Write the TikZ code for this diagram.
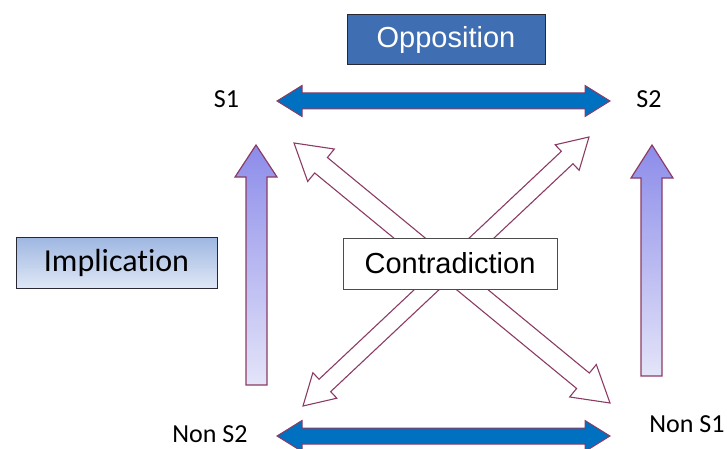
\documentclass[tikz,border=0pt]{standalone}
\usepackage{fontspec}
\setmainfont[Ligatures={NoCommon}]{Carlito}
\newfontfamily\arialf{Liberation Sans}
\usetikzlibrary{calc}
\definecolor{maroonline}{RGB}{140,60,100}
\definecolor{arrowblue}{RGB}{0,112,192}
\definecolor{oppblue}{RGB}{64,110,178}
\definecolor{oppedge}{RGB}{40,40,50}
\definecolor{lavtop}{RGB}{140,140,234}
\definecolor{lavbot}{RGB}{228,228,249}
\definecolor{impltop}{RGB}{158,183,225}
\definecolor{implbot}{RGB}{223,231,245}
\newcommand{\dblarrowpath}[6]{%
  \path[#6] (#1) -- ($(#1)!#5!(#2)!#4!90:(#2)$) -- ($(#1)!#5!(#2)!#3!90:(#2)$)
    -- ($(#2)!#5!(#1)!#3!-90:(#1)$) -- ($(#2)!#5!(#1)!#4!-90:(#1)$) -- (#2)
    -- ($(#2)!#5!(#1)!#4!90:(#1)$) -- ($(#2)!#5!(#1)!#3!90:(#1)$)
    -- ($(#1)!#5!(#2)!#3!-90:(#2)$) -- ($(#1)!#5!(#2)!#4!-90:(#2)$) -- cycle;}
\tikzset{
  lbl/.style={font=\fontsize{26}{30}\selectfont, text=black, inner sep=0pt, anchor=base},
  bluearr/.style={fill=arrowblue, draw=maroonline, line width=1pt, line join=miter},
  hollowarr/.style={fill=white, draw=maroonline, line width=1.1pt, line join=miter},
  lavarr/.style={top color=lavtop, bottom color=lavbot, draw=maroonline, line width=1.2pt},
  oppbox/.style={fill=oppblue, draw=oppedge, line width=1pt, text=white,
    font=\arialf\fontsize{29}{33}\selectfont, minimum width=198pt, minimum height=50pt, inner sep=0pt},
  implbox/.style={top color=impltop, bottom color=implbot, draw=oppedge, line width=1pt, text=black,
    font=\fontsize{32}{36}\selectfont, minimum width=201pt, minimum height=51pt, inner sep=0pt},
  contrbox/.style={fill=white, draw=black!70, line width=1pt, text=black,
    font=\arialf\fontsize{29}{33}\selectfont, minimum width=214pt, minimum height=51pt, inner sep=0pt},
}
\begin{document}
\begin{tikzpicture}[x=1pt, y=-1pt]
\useasboundingbox (0,0) rectangle (727,449);
% labels
\node[lbl] (S1) at (226.5,108) {S1};
\node[lbl] (S2) at (649,108) {S2};
\node[lbl] (NS2) at (210,442) {Non S2};
\node[lbl] (NS1) at (687,432) {Non S1};
% arrow end points
\coordinate (ta1) at (277,101);
\coordinate (ta2) at (610,101);
\coordinate (ba1) at (277,436);
\coordinate (ba2) at (610,436);
\coordinate (dA1) at (294,143);
\coordinate (dA2) at (610,403);
\coordinate (dB1) at (589,137);
\coordinate (dB2) at (303,406);
% diagonal hollow arrows
\dblarrowpath{dA1}{dA2}{10pt}{21pt}{35pt}{hollowarr}
\dblarrowpath{dB1}{dB2}{8.5pt}{17.5pt}{30pt}{hollowarr}
% horizontal blue arrows
\dblarrowpath{ta1}{ta2}{8pt}{15.5pt}{25pt}{bluearr}
\dblarrowpath{ba1}{ba2}{8pt}{15.5pt}{25pt}{bluearr}
% vertical implication arrows
\path[lavarr] (256,145) coordinate (lv) -- (277,177) -- (267,177) -- (267,385) -- (246,385) -- (246,177) -- (235,177) -- cycle;
\path[lavarr] (652,145) coordinate (rv) -- (673,178) -- (662,178) -- (662,376) -- (641,376) -- (641,178) -- (631,178) -- cycle;
% boxes
\node[oppbox] (opp) at (446,40) {Opposition};
\node[implbox] (impl) at (116.5,262.5) {Implication};
\node[contrbox] (contr) at (450,263.5) {Contradiction};
\end{tikzpicture}
\end{document}
